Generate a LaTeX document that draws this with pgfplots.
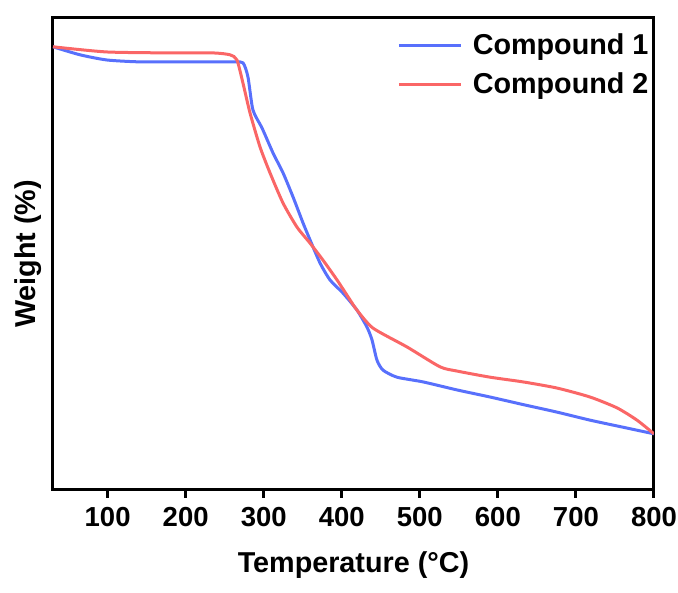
\documentclass[border=0pt]{standalone}
\usepackage{pgfplots}
\pgfplotsset{compat=1.18}
\usepackage{fontspec}
\setmainfont{Liberation Sans}
\definecolor{cOne}{RGB}{88,112,252}
\definecolor{cTwo}{RGB}{250,102,102}
\newcommand{\lblfont}{\bfseries\fontsize{11}{13}\selectfont}
\newcommand{\axfont}{\bfseries\fontsize{11.5}{13.5}\selectfont}

\begin{document}
\begin{tikzpicture}
\useasboundingbox (-21.2pt,-41.2pt) rectangle (250pt,196pt);
\begin{axis}[
  scale only axis,
  width=240.4pt, height=188.8pt,
  xmin=30, xmax=800, ymin=0, ymax=100,
  xtick={100,200,...,800}, ytick=\empty,
  xtick pos=bottom, tick align=outside,
  major tick length=3.2pt,
  tick style={black, line width=1.2pt},
  axis line style={line width=1.2pt},
  /pgf/number format/assume math mode=true,
  tick label style={font=\lblfont},
  xlabel={Temperature (°C)}, ylabel={Weight (\%)},
  label style={font=\axfont},
  xlabel style={at={(axis description cs:0.5,0)}, anchor=center, yshift=-30pt},
  ylabel style={at={(axis description cs:-0.042,0.5)}, anchor=center, rotate=0},
  legend style={at={(axis description cs:1,0.99)}, anchor=north east, xshift=3pt,
    draw=none, fill=none, font=\axfont, row sep=1.8pt,
    /tikz/every odd column/.append style={column sep=2pt}},
  legend cell align=left,
  legend image code/.code={\draw[#1, line width=1.2pt] (0pt,0pt) -- (25pt,0pt);},
  every axis plot/.append style={line width=1.2pt, smooth, tension=0.4},
]
% Compound 1
\addplot[cOne] coordinates {
  (30,93.9) (64.6,92.2) (99.2,91.1) (141.5,90.7) (200,90.7) (260.6,90.7)
  (273.4,90.5) (279.8,87.5) (286.2,80.5) (297.8,76.7) (311.9,71.4)
  (324.7,67.2) (337.5,62.1) (350.3,56.6) (359.3,53.0) (372.1,48.1)
  (384.9,44.5) (401.6,41.7) (419.5,38.1) (432.3,34.5) (438.7,31.8)
  (445.1,27.5) (452.8,25.4) (470.7,23.9) (504.1,22.9) (547.6,21.2)
  (589.9,19.7) (632.2,18.1) (675.7,16.5) (718.0,14.8) (760.3,13.3) (800,11.9)};
\addlegendentry{Compound 1}
% Compound 2
\addplot[cTwo] coordinates {
  (30,93.9) (99.2,92.8) (183.7,92.6) (235,92.6) (256.8,92.2) (265.7,91.1)
  (273.4,86.2) (282.4,79.9) (295.2,72.7) (308,67.2) (324.7,60.8)
  (342.6,55.7) (359.3,52.3) (375.9,48.7) (393.9,44.5) (410.5,40.3)
  (419.5,38.1) (440,34.3) (483.6,30.3) (525.8,26.1) (547.6,25.2)
  (589.9,23.9) (632.2,22.9) (675.7,21.6) (718,19.7) (752.6,17.4)
  (778.2,14.8) (800,11.9)};
\addlegendentry{Compound 2}
\end{axis}
\end{tikzpicture}
\end{document}
